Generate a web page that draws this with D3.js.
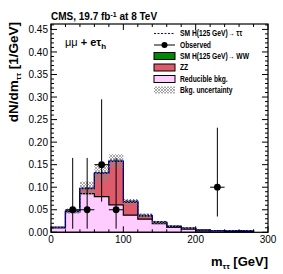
<!DOCTYPE html>
<html><head><meta charset="utf-8">
<script src="https://cdn.jsdelivr.net/npm/d3@7"></script>
<style>body{margin:0;background:#fff}svg{display:block}text{font-family:"Liberation Sans",Arial,sans-serif}</style>
</head><body>
<svg id="c" width="283" height="274"></svg>
<script>
const binEdges = [0,20,40,60,80,100,120,140,160,180,200,220,240,260,280];
const reducible = [0.010,0.045,0.086,0.079,0.061,0.038,0.029,0.019,0.011,0.007,0.003,0.003,0.002,0.002];
const zz =        [0.001,0.002,0.011,0.052,0.096,0.029,0.007,0.003,0.002,0.002,0.002,0.001,0.002,0.002];
const hww =       [0,0,0.0005,0.0005,0.001,0.001,0.001,0,0,0,0,0,0,0];
const htt =       [0,0.0005,0.001,0.001,0.002,0.003,0.003,0.002,0.001,0.001,0,0,0,0];
const uncHalf =   [0.002,0.006,0.015,0.019,0.015,0.006,0.004,0.003,0.002,0.0015,0.001,0.001,0.001,0.001];
const obsX =   [30,50,70,90,230];
const obsY =   [0.05,0.05,0.15,0.05,0.10];
const obsUp =  [0.165,0.165,0.295,0.165,0.232];
const obsLow = [0.008,0.008,0.068,0.008,0.035];
const yTicks = [0,0.05,0.10,0.15,0.20,0.25,0.30,0.35,0.40,0.45];
const xTicks = [0,100,200,300];
const legendLabels = ["SM H(125 GeV)\u2192 \u03c4\u03c4","Observed","SM H(125 GeV)\u2192 WW","ZZ","Reducible bkg.","Bkg. uncertainty"];

const svg = d3.select("#c");
const L=51,R=268,T=24,B=232.3;
const x = d3.scaleLinear().domain([0,300]).range([L,R]);
const y = d3.scaleLinear().domain([0,0.462]).range([B,T]);

const defs = svg.append("defs");
const pat = defs.append("pattern").attr("id","hatch").attr("patternUnits","userSpaceOnUse").attr("width",3).attr("height",3);
pat.append("path").attr("d","M0,0L3,3M3,0L0,3").attr("stroke","#888").attr("stroke-width",0.7);
defs.append("clipPath").attr("id","clip").append("rect").attr("x",L).attr("y",T).attr("width",R-L).attr("height",B-T);

const n = reducible.length;
const s1 = reducible.slice();
const s2 = s1.map((v,i)=>v+zz[i]);
const s3 = s2.map((v,i)=>v+hww[i]);
const s4 = s3.map((v,i)=>v+htt[i]);

function stepArea(vals){
  let d = `M${x(binEdges[0])},${y(0)}`;
  for(let i=0;i<n;i++){ d += `L${x(binEdges[i])},${y(vals[i])}L${x(binEdges[i+1])},${y(vals[i])}`; }
  d += `L${x(binEdges[n])},${y(0)}Z`;
  return d;
}
function stepLine(vals){
  let d = "";
  for(let i=0;i<n;i++){ d += (i===0?"M":"L")+`${x(binEdges[i])},${y(vals[i])}L${x(binEdges[i+1])},${y(vals[i])}`; }
  return d;
}
const g = svg.append("g").attr("clip-path","url(#clip)");
g.append("path").attr("d",stepArea(s3)).attr("fill","#008800").attr("stroke","#000").attr("stroke-width",1.2);
g.append("path").attr("d",stepArea(s2)).attr("fill","#de5b6c").attr("stroke","#000").attr("stroke-width",1.2);
g.append("path").attr("d",stepArea(s1)).attr("fill","#ffccff").attr("stroke","#000").attr("stroke-width",1.2);
for(let i=0;i<n;i++){
  g.append("rect").attr("x",x(binEdges[i])).attr("width",x(binEdges[i+1])-x(binEdges[i]))
   .attr("y",y(s3[i]+uncHalf[i])).attr("height",y(s3[i]-uncHalf[i])-y(s3[i]+uncHalf[i]))
   .attr("fill","url(#hatch)");
}
g.append("path").attr("d",stepLine(s4)).attr("fill","none").attr("stroke","#0000dd").attr("stroke-width",1).attr("stroke-dasharray","2,1.5");

const obs = svg.append("g");
obsX.forEach((xv,i)=>{
  obs.append("line").attr("x1",x(xv)).attr("x2",x(xv)).attr("y1",y(obsLow[i])).attr("y2",y(obsUp[i])).attr("stroke","#000").attr("stroke-width",1);
  obs.append("line").attr("x1",x(xv-10)).attr("x2",x(xv+10)).attr("y1",y(obsY[i])).attr("y2",y(obsY[i])).attr("stroke","#000").attr("stroke-width",1);
  obs.append("circle").attr("cx",x(xv)).attr("cy",y(obsY[i])).attr("r",3.4).attr("fill","#000");
});

svg.append("rect").attr("x",L).attr("y",T).attr("width",R-L).attr("height",B-T).attr("fill","none").attr("stroke","#000").attr("stroke-width",1.2);

const tk = svg.append("g").attr("stroke","#000").attr("stroke-width",1);
for(let v=0; v<=0.4601; v+=0.01){
  const major = Math.abs(v/0.05 - Math.round(v/0.05))<1e-6;
  const len = major?6:3;
  tk.append("line").attr("x1",L).attr("x2",L+len).attr("y1",y(v)).attr("y2",y(v));
  tk.append("line").attr("x1",R).attr("x2",R-len).attr("y1",y(v)).attr("y2",y(v));
}
for(let v=0; v<=300; v+=20){
  const major = v%100===0;
  const len = major?6:3;
  tk.append("line").attr("x1",x(v)).attr("x2",x(v)).attr("y1",B).attr("y2",B-len);
  tk.append("line").attr("x1",x(v)).attr("x2",x(v)).attr("y1",T).attr("y2",T+len);
}
svg.append("g").selectAll("text").data(yTicks).join("text")
  .attr("x",L-3).attr("y",d=>y(d)+3.6).attr("text-anchor","end").attr("font-size",10).text(d=>d3.format(".2f")(d));
svg.append("g").selectAll("text").data(xTicks).join("text")
  .attr("x",d=>x(d)).attr("y",B+11).attr("text-anchor","middle").attr("font-size",10).text(d=>d);

const t = svg.append("text").attr("x",L).attr("y",20).attr("font-size",10).attr("font-weight","bold");
t.append("tspan").text("CMS, 19.7 fb");
t.append("tspan").attr("dy",-3.5).attr("font-size",7).text("-1");
t.append("tspan").attr("dy",3.5).text(" at 8 TeV");

const yt = svg.append("text").attr("transform","translate(18,22) rotate(-90)").attr("text-anchor","end").attr("font-size",13.5).attr("font-weight","bold");
yt.append("tspan").text("dN/dm");
yt.append("tspan").attr("dy",3).attr("font-size",8).text("\u03c4\u03c4");
yt.append("tspan").attr("dy",-3).text(" [1/GeV]");

const xt = svg.append("text").attr("x",R).attr("y",266).attr("text-anchor","end").attr("font-size",13).attr("font-weight","bold");
xt.append("tspan").text("m");
xt.append("tspan").attr("dy",3).attr("font-size",8).text("\u03c4\u03c4");
xt.append("tspan").attr("dy",-3).text(" [GeV]");

const ch = svg.append("text").attr("x",65).attr("y",46).attr("font-size",11).attr("font-weight","bold");
ch.append("tspan").attr("font-weight","normal").text("\u03bc\u03bc");
ch.append("tspan").text(" + e\u03c4");
ch.append("tspan").attr("dy",3).attr("font-size",8).text("h");

const lg = svg.append("g");
const ly = [33.5,45,56,67.5,79,90];
const bx=154,bw=21,bh=7;
lg.append("line").attr("x1",bx).attr("x2",bx+bw).attr("y1",ly[0]).attr("y2",ly[0]).attr("stroke","#0000dd").attr("stroke-dasharray","2,1.5");
lg.append("line").attr("x1",bx).attr("x2",bx+bw).attr("y1",ly[1]).attr("y2",ly[1]).attr("stroke","#000");
lg.append("circle").attr("cx",bx+bw/2).attr("cy",ly[1]).attr("r",3).attr("fill","#000");
const fills = ["#008800","#de5b6c","#ffccff","url(#hatch)"];
fills.forEach((f,i)=>{
  lg.append("rect").attr("x",bx).attr("y",ly[i+2]-bh/2).attr("width",bw).attr("height",bh).attr("fill",f).attr("stroke",i<3?"#000":"none").attr("stroke-width",1);
});
lg.append("g").attr("transform","translate(180,0) scale(0.82,1)")
  .selectAll("text").data(legendLabels).join("text").attr("x",0).attr("y",(d,i)=>ly[i]+3).attr("font-size",8.2).attr("font-weight","bold").text(d=>d);
</script>
</body></html>
